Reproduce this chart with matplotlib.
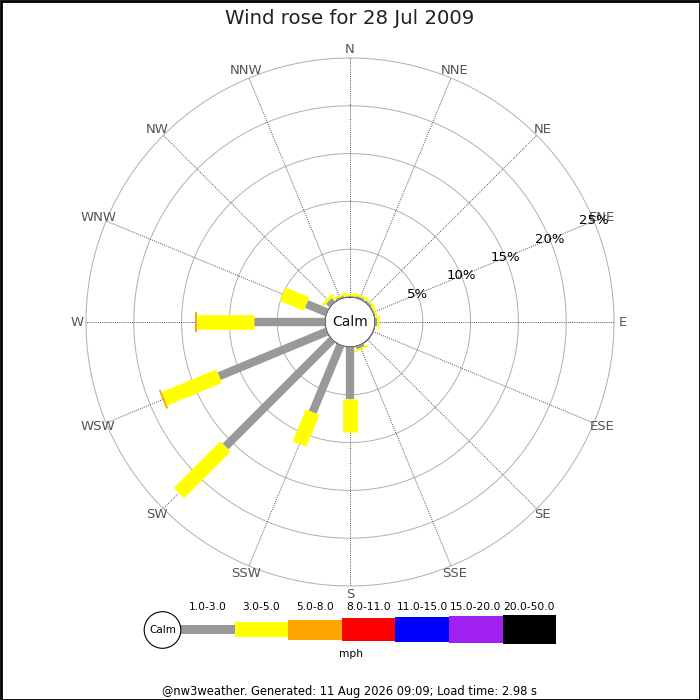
import numpy as np
import matplotlib
matplotlib.use("Agg")
import matplotlib.pyplot as plt
from matplotlib.patches import Circle, Rectangle

# ---- data ----
directions = ["N", "NNE", "NE", "ENE", "E", "ESE", "SE", "SSE",
              "S", "SSW", "SW", "WSW", "W", "WNW", "NW", "NNW"]
speed_bins = ["1.0-3.0", "3.0-5.0", "5.0-8.0", "8.0-11.0", "11.0-15.0", "15.0-20.0", "20.0-50.0"]
bin_colors = ["#999999", "#ffff00", "#ffa500", "#ff0000", "#0000ff", "#a020f0", "#000000"]
# percent of time per direction, per speed bin
pct_1_3 = [0.1, 0.2, 0.2, 0.1, 0.2, 0.0, 0.0, 0.3, 5.45, 7.6, 15.8, 12.2, 7.4, 2.3, 0.5, 0.2]
pct_3_5 = [0.2, 0.2, 0.2, 0.2, 0.2, 0.0, 0.0, 0.2, 3.45, 3.6, 6.9, 6.2, 6.0, 2.7, 0.3, 0.2]
pct_5_8 = [0.0, 0.0, 0.0, 0.0, 0.0, 0.0, 0.0, 0.0, 0.0, 0.0, 0.0, 0.2, 0.2, 0.0, 0.0, 0.0]
ring_pcts = [5, 10, 15, 20, 25]
title = "Wind rose for 28 Jul 2009"
footer = "@nw3weather. Generated: 11 Aug 2026 09:09; Load time: 2.98 s"

# ---- style ----
px = 0.72  # points per pixel at dpi 100
bar_px = [8.3, 14.7, 20, 23, 25, 27, 28.3]
calm_px = 25.0
outer_px = 264.0
rmax = 25.0
rorigin = -rmax * calm_px / (outer_px - calm_px)

fig = plt.figure(figsize=(7, 7), dpi=100)
fig.patch.set_facecolor("white")

ax = fig.add_axes([(350 - outer_px) / 700, (700 - 322 - outer_px) / 700,
                   2 * outer_px / 700, 2 * outer_px / 700], projection="polar")
ax.set_theta_zero_location("N")
ax.set_theta_direction(-1)
ax.set_ylim(0, rmax)
ax.set_rorigin(rorigin)
ax.grid(False)
ax.set_xticks([])
ax.set_yticks([])
ax.spines["polar"].set_visible(False)
ax.set_facecolor("white")

thetas = np.deg2rad(np.arange(16) * 22.5)
full = np.linspace(0, 2 * np.pi, 400)

# rings
for r in ring_pcts:
    ax.plot(full, np.full_like(full, r), color="#b0b0b0", lw=0.7, zorder=1, clip_on=False)
# spokes
for t in thetas:
    ax.plot([t, t], [0, rmax], color="#555555", lw=0.7, ls=(0, (1, 1.2)), zorder=1)

# bars
series = [pct_1_3, pct_3_5, pct_5_8]
cum = np.zeros(16)
for k, s in enumerate(series):
    s = np.array(s)
    for i, t in enumerate(thetas):
        if s[i] > 0:
            ax.plot([t, t], [cum[i], cum[i] + s[i]], color=bin_colors[k],
                    lw=bar_px[k] * px, solid_capstyle="butt", zorder=3 + k)
    cum = cum + s

# calm circle
ax.add_patch(Circle((0.5, 0.5), calm_px / (2 * outer_px), transform=ax.transAxes,
                    facecolor="white", edgecolor="#999999", lw=0.8, zorder=10))
ax.text(0.5, 0.5, "Calm", transform=ax.transAxes, ha="center", va="center",
        fontsize=10, color="#111111", zorder=11)

# direction labels
for t, d in zip(thetas, directions):
    ax.text(t, rmax + 0.9, d, ha="center", va="center", fontsize=9.5, color="#555555")

# ring labels along ENE
t_lab = np.deg2rad(67.5)
for r in ring_pcts:
    ax.text(t_lab, r, f"{r}%", ha="center", va="center", fontsize=9.5, color="black", zorder=12)

fig.text(0.5, 1 - 18 / 700, title, ha="center", va="center", fontsize=14.2, color="#222222")

# ---- legend ----
lax = fig.add_axes([0, 0, 1, 1])
lax.set_xlim(0, 700)
lax.set_ylim(700, 0)
lax.axis("off")
lax.patch.set_alpha(0)
seg_w = 53.6
x0 = 181.0
yc = 629.5
for k, (lbl, c) in enumerate(zip(speed_bins, bin_colors)):
    xs = x0 + k * seg_w
    h = bar_px[k]
    lax.add_patch(Rectangle((xs, yc - h / 2), seg_w, h, facecolor=c, edgecolor="none"))
    lax.text(xs + seg_w / 2, 607, lbl, ha="center", va="center", fontsize=7.7)
lax.add_patch(Circle((162.5, 630), 18.3, facecolor="white", edgecolor="black", lw=0.8, zorder=5))
lax.text(162.5, 630, "Calm", ha="center", va="center", fontsize=7.5, zorder=6)
lax.text(351, 654, "mph", ha="center", va="center", fontsize=7.7)
lax.text(350, 692, footer, ha="center", va="center", fontsize=8.3)
lax.add_patch(Rectangle((0.5, 0.5), 699, 699, facecolor="none", edgecolor="black", lw=2))

fig.savefig("out.png", dpi=100)
